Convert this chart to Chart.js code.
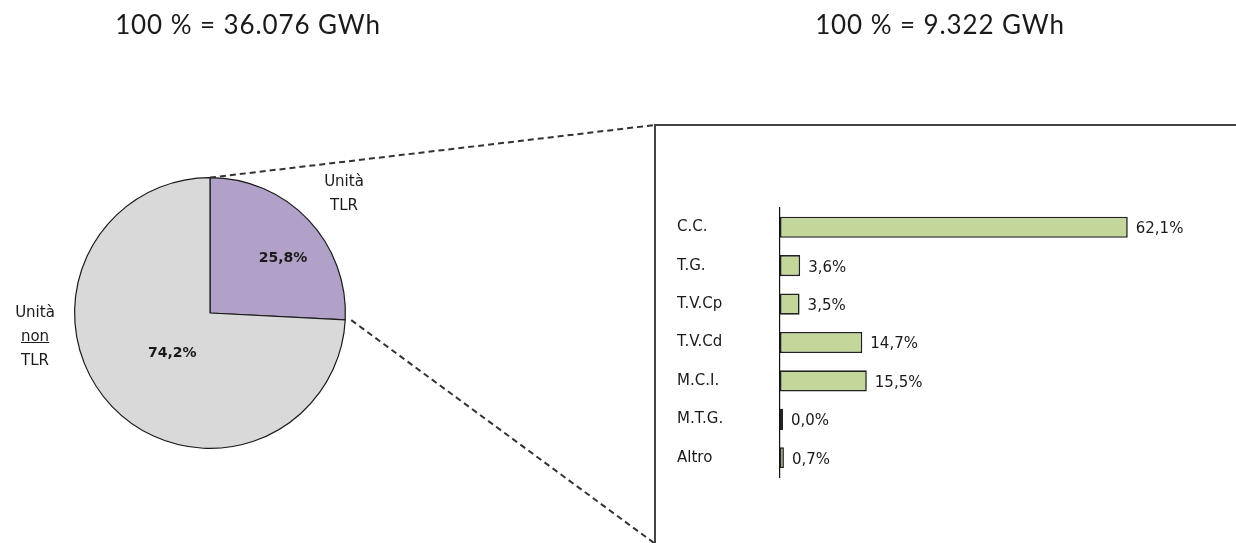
<!DOCTYPE html>
<html>
<head>
<meta charset="utf-8">
<script src="https://cdn.jsdelivr.net/npm/chart.js@4.4.1/dist/chart.umd.min.js"></script>
<style>
  html, body { margin: 0; padding: 0; background: #fff; }
  #wrap { position: relative; width: 1236px; height: 543px; overflow: hidden; }
  canvas { position: absolute; }
  .title { position: absolute; top: 8px; font-family: Lato, "Open Sans", sans-serif; font-size: 26px; letter-spacing: 0.9px; color: #1a1a1a; white-space: nowrap; transform: translateX(-50%); }
  .lbl { position: absolute; font-family: "DejaVu Sans", sans-serif; font-size: 15px; color: #1a1a1a; text-align: center; line-height: 24px; transform: translateX(-50%); }
</style>
</head>
<body>
<div id="wrap">
  <canvas id="pie" width="1236" height="543" style="left:0;top:0;"></canvas>
  <canvas id="bar" width="576" height="310" style="left:660px;top:190px;"></canvas>
  <div class="title" style="left:248px;">100 % = 36.076 GWh</div>
  <div class="title" style="left:940px;">100 % = 9.322 GWh</div>
  <div class="lbl" style="left:344px;top:169px;">Unità<br>TLR</div>
  <div class="lbl" style="left:35px;top:300px;">Unità<br><u>non</u><br>TLR</div>
</div>
<script>
// Share of energy: TLR units vs. the rest
const pieLabels = ['Unità TLR', 'Unità non TLR'];
const pieValues = [25.8, 74.2];
const pieColors = ['#B1A0C7', '#D9D9D9'];

// Breakdown of the TLR units by technology
const techLabels = ['C.C.', 'T.G.', 'T.V.Cp', 'T.V.Cd', 'M.C.I.', 'M.T.G.', 'Altro'];
const techValues = [62.1, 3.6, 3.5, 14.7, 15.5, 0.0, 0.7];

const fmt = v => v.toFixed(1).replace('.', ',') + '%';

// Percentages inside the pie slices, plus the zoom connectors and frame
const pieDecor = {
  id: 'pieDecor',
  afterDatasetsDraw(chart) {
    const ctx = chart.ctx;
    const arcs = chart.getDatasetMeta(0).data;
    const radiusFactor = [0.675, 0.41];
    const angleShift = [6.6, -3.7].map(d => d * Math.PI / 180);
    ctx.save();
    ctx.font = 'bold 14px "DejaVu Sans", sans-serif';
    ctx.fillStyle = '#1a1a1a';
    ctx.textAlign = 'center';
    ctx.textBaseline = 'middle';
    arcs.forEach((arc, i) => {
      const mid = (arc.startAngle + arc.endAngle) / 2 + angleShift[i];
      const r = arc.outerRadius * radiusFactor[i];
      ctx.fillText(fmt(pieValues[i]), arc.x + Math.cos(mid) * r, arc.y + Math.sin(mid) * r);
    });

    // frame around the detail panel
    ctx.strokeStyle = '#444';
    ctx.lineWidth = 2;
    ctx.setLineDash([]);
    ctx.beginPath();
    ctx.moveTo(655, 560);
    ctx.lineTo(655, 125);
    ctx.lineTo(1250, 125);
    ctx.stroke();

    // dashed connectors from the TLR slice to the panel
    const a = arcs[0];
    ctx.strokeStyle = '#333';
    ctx.setLineDash([6, 4]);
    ctx.beginPath();
    ctx.moveTo(a.x + Math.cos(a.startAngle) * a.outerRadius, a.y + Math.sin(a.startAngle) * a.outerRadius);
    ctx.lineTo(655, 125);
    const ex = a.x + Math.cos(a.endAngle) * (a.outerRadius + 6);
    const ey = a.y + Math.sin(a.endAngle) * (a.outerRadius + 6);
    ctx.moveTo(ex, ey);
    ctx.lineTo(655, ey + (655 - ex) * 0.736);
    ctx.stroke();
    ctx.restore();
  }
};

new Chart(document.getElementById('pie'), {
  type: 'pie',
  data: {
    labels: pieLabels,
    datasets: [{
      data: pieValues,
      backgroundColor: pieColors,
      borderColor: '#1a1a1a',
      borderWidth: 1.2
    }]
  },
  options: {
    responsive: false,
    animation: false,
    layout: { padding: { left: 74, right: 890, top: 177, bottom: 94 } },
    plugins: { legend: { display: false }, tooltip: { enabled: false } }
  },
  plugins: [pieDecor]
});

// Value labels at the end of each bar
const barValues = {
  id: 'barValues',
  afterDatasetsDraw(chart) {
    const ctx = chart.ctx;
    ctx.save();
    ctx.font = '15px "DejaVu Sans", sans-serif';
    ctx.fillStyle = '#1a1a1a';
    ctx.textAlign = 'left';
    ctx.textBaseline = 'middle';
    chart.getDatasetMeta(0).data.forEach((bar, i) => {
      ctx.fillText(fmt(techValues[i]), bar.x + 8, bar.y + 2);
    });
    ctx.restore();
  }
};

new Chart(document.getElementById('bar'), {
  type: 'bar',
  data: {
    labels: techLabels,
    datasets: [{
      data: techValues,
      backgroundColor: '#C4D79B',
      borderColor: '#222',
      borderWidth: 1.6,
      borderSkipped: false,
      minBarLength: 3,
      barPercentage: 0.55,
      categoryPercentage: 1
    }]
  },
  options: {
    indexAxis: 'y',
    responsive: false,
    animation: false,
    layout: { padding: { left: 17, right: 8, top: 18, bottom: 23 } },
    scales: {
      x: { display: false, min: 0, max: 80 },
      y: {
        grid: { display: false, drawTicks: false },
        border: { display: true, color: '#111', width: 1.2 },
        ticks: {
          crossAlign: 'far',
          color: '#1a1a1a',
          font: { family: '"DejaVu Sans", sans-serif', size: 15 }
        },
        afterFit(scale) { scale.width = 103; }
      }
    },
    plugins: { legend: { display: false }, tooltip: { enabled: false } }
  },
  plugins: [barValues]
});
</script>
</body>
</html>
